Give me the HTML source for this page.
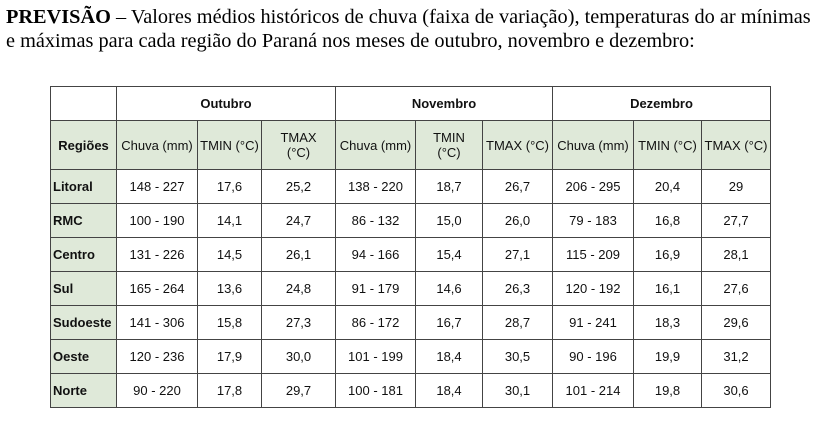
<!DOCTYPE html><html><head><style>
body{margin:0;width:822px;height:424px;background:#fff;position:relative;overflow:hidden}
.t{position:absolute;left:6px;top:5px;font-family:"Liberation Serif",serif;font-size:20px;line-height:24px;color:#000;white-space:nowrap;transform:scaleX(1.015);transform-origin:left}
table{position:absolute;left:50px;top:86px;border-collapse:collapse;font-family:"Liberation Sans",sans-serif;font-size:13px;color:#111}
td{border:1px solid #444;text-align:center;padding:0;height:33px;white-space:nowrap}
.g{background:#dfe9d9}
.b{font-weight:bold}
.l{text-align:left;padding-left:2px;font-weight:bold}
</style></head><body>
<div class="t"><b>PREVISÃO</b> – Valores médios históricos de chuva (faixa de variação), temperaturas do ar mínimas<br>e máximas para cada região do Paraná nos meses de outubro, novembro e dezembro:</div>
<table>
<colgroup><col style="width:66px"><col style="width:81px"><col style="width:64px"><col style="width:74px"><col style="width:80px"><col style="width:67px"><col style="width:70px"><col style="width:81px"><col style="width:68px"><col style="width:69px"></colgroup>
<tr style="height:34px"><td></td><td colspan="3" class="b">Outubro</td><td colspan="3" class="b">Novembro</td><td colspan="3" class="b">Dezembro</td></tr>
<tr class="g" style="height:49px"><td class="b">Regiões</td><td>Chuva (mm)</td><td>TMIN (°C)</td><td>TMAX<br>(°C)</td><td>Chuva (mm)</td><td>TMIN<br>(°C)</td><td>TMAX (°C)</td><td>Chuva (mm)</td><td>TMIN (°C)</td><td>TMAX (°C)</td></tr>
<tr><td class="l g">Litoral</td><td>148 - 227</td><td>17,6</td><td>25,2</td><td>138 - 220</td><td>18,7</td><td>26,7</td><td>206 - 295</td><td>20,4</td><td>29</td></tr>
<tr><td class="l g">RMC</td><td>100 - 190</td><td>14,1</td><td>24,7</td><td>86 - 132</td><td>15,0</td><td>26,0</td><td>79 - 183</td><td>16,8</td><td>27,7</td></tr>
<tr><td class="l g">Centro</td><td>131 - 226</td><td>14,5</td><td>26,1</td><td>94 - 166</td><td>15,4</td><td>27,1</td><td>115 - 209</td><td>16,9</td><td>28,1</td></tr>
<tr><td class="l g">Sul</td><td>165 - 264</td><td>13,6</td><td>24,8</td><td>91 - 179</td><td>14,6</td><td>26,3</td><td>120 - 192</td><td>16,1</td><td>27,6</td></tr>
<tr><td class="l g">Sudoeste</td><td>141 - 306</td><td>15,8</td><td>27,3</td><td>86 - 172</td><td>16,7</td><td>28,7</td><td>91 - 241</td><td>18,3</td><td>29,6</td></tr>
<tr><td class="l g">Oeste</td><td>120 - 236</td><td>17,9</td><td>30,0</td><td>101 - 199</td><td>18,4</td><td>30,5</td><td>90 - 196</td><td>19,9</td><td>31,2</td></tr>
<tr><td class="l g">Norte</td><td>90 - 220</td><td>17,8</td><td>29,7</td><td>100 - 181</td><td>18,4</td><td>30,1</td><td>101 - 214</td><td>19,8</td><td>30,6</td></tr>
</table>
</body></html>
